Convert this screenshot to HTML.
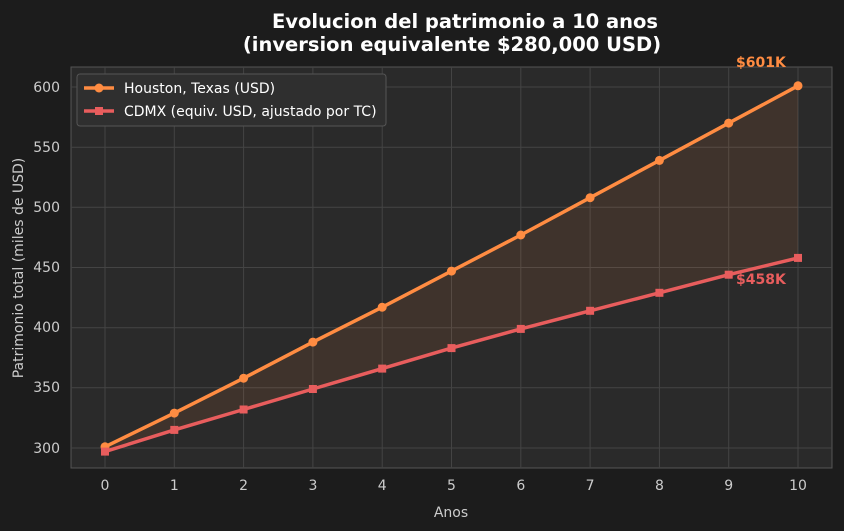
<!DOCTYPE html>
<html><head><meta charset="utf-8"><style>
html,body{margin:0;padding:0;background:#1c1c1c;overflow:hidden;}
svg{display:block;font-family:"DejaVu Sans","Liberation Sans",sans-serif;}
</style></head><body>
<svg width="844" height="531" viewBox="0 0 844 531" xmlns="http://www.w3.org/2000/svg">
<rect width="844" height="531" fill="#1c1c1c"/>
<text x="465" y="28" text-anchor="middle" fill="#fff" font-size="19.5" font-weight="bold">Evolucion del patrimonio a 10 anos</text>
<text x="452" y="51" text-anchor="middle" fill="#fff" font-size="19.5" font-weight="bold">(inversion equivalente $280,000 USD)</text>
<rect x="71" y="67" width="761" height="401" fill="#2a2a2a" stroke="#555" stroke-width="1"/>
<g stroke="#444" stroke-width="1">
<line x1="105" y1="67" x2="105" y2="468"/><line x1="174.3" y1="67" x2="174.3" y2="468"/><line x1="243.6" y1="67" x2="243.6" y2="468"/><line x1="312.9" y1="67" x2="312.9" y2="468"/><line x1="382.2" y1="67" x2="382.2" y2="468"/><line x1="451.5" y1="67" x2="451.5" y2="468"/><line x1="520.8" y1="67" x2="520.8" y2="468"/><line x1="590.1" y1="67" x2="590.1" y2="468"/><line x1="659.4" y1="67" x2="659.4" y2="468"/><line x1="728.7" y1="67" x2="728.7" y2="468"/><line x1="798" y1="67" x2="798" y2="468"/>
<line x1="71" y1="87" x2="832" y2="87"/><line x1="71" y1="147.2" x2="832" y2="147.2"/><line x1="71" y1="207.3" x2="832" y2="207.3"/><line x1="71" y1="267.5" x2="832" y2="267.5"/><line x1="71" y1="327.7" x2="832" y2="327.7"/><line x1="71" y1="387.8" x2="832" y2="387.8"/><line x1="71" y1="448" x2="832" y2="448"/>
</g>
<g fill="#ccc" font-size="14" text-anchor="end">
<text x="60" y="92">600</text><text x="60" y="152">550</text><text x="60" y="212">500</text><text x="60" y="272">450</text><text x="60" y="332">400</text><text x="60" y="392">350</text><text x="60" y="453">300</text>
</g>
<g fill="#ccc" font-size="14" text-anchor="middle">
<text x="105" y="490">0</text><text x="174.3" y="490">1</text><text x="243.6" y="490">2</text><text x="312.9" y="490">3</text><text x="382.2" y="490">4</text><text x="451.5" y="490">5</text><text x="520.8" y="490">6</text><text x="590.1" y="490">7</text><text x="659.4" y="490">8</text><text x="728.7" y="490">9</text><text x="798" y="490">10</text>
</g>
<text x="451" y="517" text-anchor="middle" fill="#ccc" font-size="14">Anos</text>
<text transform="translate(23,268) rotate(-90)" text-anchor="middle" fill="#ccc" font-size="14">Patrimonio total (miles de USD)</text>
<polygon fill="#ff8c42" fill-opacity="0.1" points="105,446.8 174.3,413.1 243.6,378.2 312.9,342.1 382.2,307.2 451.5,271.1 520.8,235 590.1,197.7 659.4,160.4 728.7,123.1 798,85.8 798,257.9 728.7,274.7 659.4,292.8 590.1,310.8 520.8,328.9 451.5,348.1 382.2,368.6 312.9,389 243.6,409.5 174.3,429.9 105,451.6"/>
<polyline fill="none" stroke="#ff8c42" stroke-width="3.5" points="105,446.8 174.3,413.1 243.6,378.2 312.9,342.1 382.2,307.2 451.5,271.1 520.8,235 590.1,197.7 659.4,160.4 728.7,123.1 798,85.8"/>
<polyline fill="none" stroke="#e85d5d" stroke-width="3.5" points="105,451.6 174.3,429.9 243.6,409.5 312.9,389 382.2,368.6 451.5,348.1 520.8,328.9 590.1,310.8 659.4,292.8 728.7,274.7 798,257.9"/>
<g fill="#ff8c42">
<circle cx="105" cy="446.8" r="4.5"/><circle cx="174.3" cy="413.1" r="4.5"/><circle cx="243.6" cy="378.2" r="4.5"/><circle cx="312.9" cy="342.1" r="4.5"/><circle cx="382.2" cy="307.2" r="4.5"/><circle cx="451.5" cy="271.1" r="4.5"/><circle cx="520.8" cy="235" r="4.5"/><circle cx="590.1" cy="197.7" r="4.5"/><circle cx="659.4" cy="160.4" r="4.5"/><circle cx="728.7" cy="123.1" r="4.5"/><circle cx="798" cy="85.8" r="4.5"/>
</g>
<g fill="#e85d5d">
<rect x="101" y="447.6" width="8" height="8"/><rect x="170.3" y="425.9" width="8" height="8"/><rect x="239.6" y="405.5" width="8" height="8"/><rect x="308.9" y="385" width="8" height="8"/><rect x="378.2" y="364.6" width="8" height="8"/><rect x="447.5" y="344.1" width="8" height="8"/><rect x="516.8" y="324.9" width="8" height="8"/><rect x="586.1" y="306.8" width="8" height="8"/><rect x="655.4" y="288.8" width="8" height="8"/><rect x="724.7" y="270.7" width="8" height="8"/><rect x="794" y="253.9" width="8" height="8"/>
</g>
<text x="736" y="67" fill="#ff8c42" font-size="14" font-weight="bold">$601K</text>
<text x="736" y="284" fill="#e85d5d" font-size="14" font-weight="bold">$458K</text>
<rect x="77" y="74" width="309" height="52" rx="3" fill="#2f2f2f" stroke="#555"/>
<line x1="84" y1="88" x2="114" y2="88" stroke="#ff8c42" stroke-width="3.5"/><circle cx="99" cy="88" r="4.5" fill="#ff8c42"/>
<text x="124" y="93" fill="#fff" font-size="14">Houston, Texas (USD)</text>
<line x1="84" y1="111" x2="114" y2="111" stroke="#e85d5d" stroke-width="3.5"/><rect x="95" y="107" width="8" height="8" fill="#e85d5d"/>
<text x="124" y="116" fill="#fff" font-size="14">CDMX (equiv. USD, ajustado por TC)</text>
</svg>
</body></html>
